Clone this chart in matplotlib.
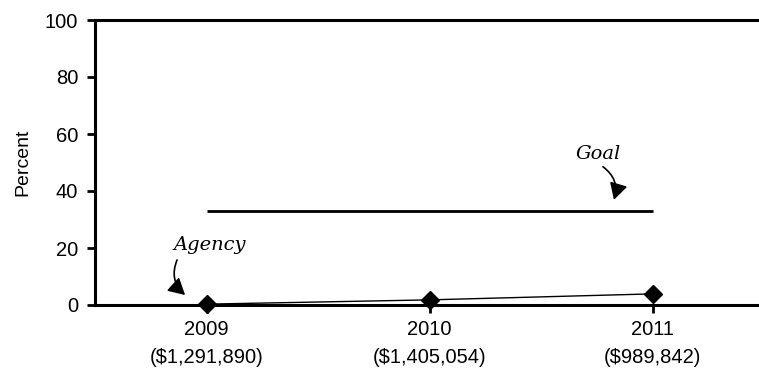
import matplotlib.pyplot as plt

years = ['2009', '2010', '2011']
funding = ['($1,291,890)', '($1,405,054)', ('($989,842)')]
agency = [0.3, 1.8, 3.9]
goal = [33, 33, 33]

plt.rcParams['font.family'] = ['Liberation Sans', 'DejaVu Sans']

fig = plt.figure(figsize=(7.59, 3.81), dpi=100)
ax = fig.add_axes([95 / 759, 1 - 305 / 381, 669 / 759, 285 / 381])

x = range(len(years))
ax.plot(x, goal, color='black', lw=2.0, solid_capstyle='butt')
ax.plot(x, agency, color='black', lw=1.0, marker='D', markersize=9,
        clip_on=False, zorder=5)

ax.set_xlim(-0.5, 2.5)
ax.set_ylim(0, 100)
ax.set_yticks([0, 20, 40, 60, 80, 100])
ax.set_xticks(list(x))
ax.set_xticklabels([y + '\n' + f for y, f in zip(years, funding)],
                   linespacing=1.55)
ax.tick_params(axis='both', labelsize=14.5, width=2, length=6,
               direction='out', color='black')
ax.tick_params(axis='x', pad=5)
ax.tick_params(axis='y', pad=6)
for s in ['left', 'bottom', 'top']:
    ax.spines[s].set_linewidth(2.2)
ax.spines['right'].set_visible(False)
ax.set_ylabel('Percent', fontsize=14, labelpad=10)

note_font = dict(family='DejaVu Serif', style='italic', fontsize=14)
arrow = dict(arrowstyle='-|>,head_length=1.0,head_width=0.55', color='black',
             lw=1.2, shrinkA=0, shrinkB=0)

ax.text(-0.146, 21.0, 'Agency', ha='left', va='center', **note_font)
ax.annotate('', xy=(-0.096, 3.5), xytext=(-0.132, 15.8),
            arrowprops=dict(arrow, connectionstyle='arc3,rad=0.35'))

ax.text(1.756, 53.0, 'Goal', ha='center', va='center', **note_font)
ax.annotate('', xy=(1.827, 36.9), xytext=(1.778, 48.5),
            arrowprops=dict(arrow, connectionstyle='arc3,rad=-0.35'))

fig.savefig('out.png', dpi=100)
